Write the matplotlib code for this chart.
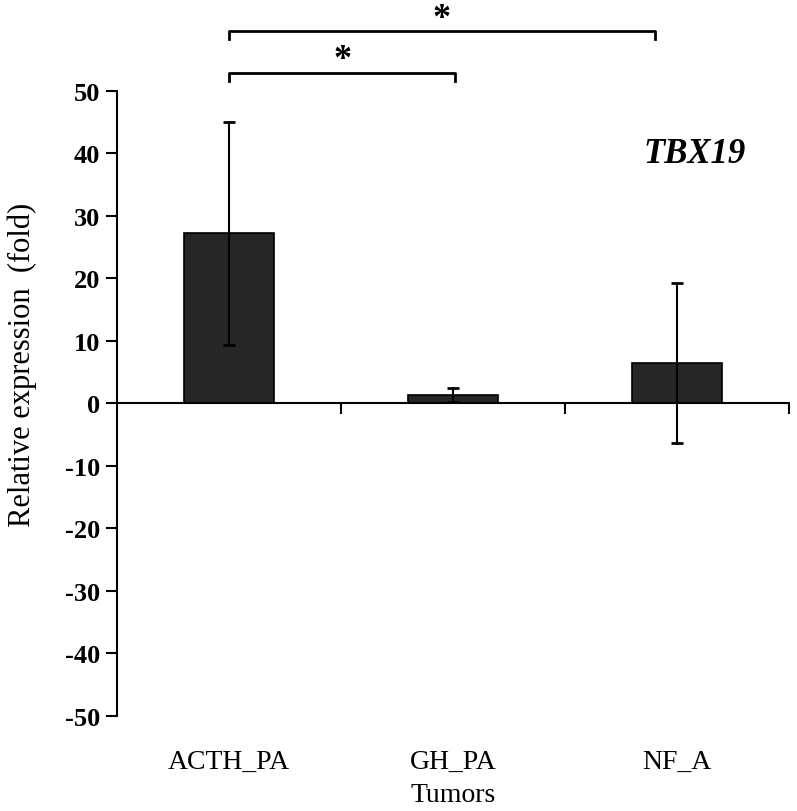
import matplotlib.pyplot as plt
import numpy as np
from matplotlib.transforms import blended_transform_factory

# data
categories = ['ACTH_PA', 'GH_PA', 'NF_A']
means = [27.2, 1.3, 6.4]
errors = [17.8, 1.1, 12.8]
y_ticks = [-50, -40, -30, -20, -10, 0, 10, 20, 30, 40, 50]

plt.rcParams['font.family'] = ['Liberation Serif', 'DejaVu Serif']

fig = plt.figure(figsize=(7.97, 8.12), dpi=100)
ax = fig.add_axes([0.147, 0.117, 0.843, 0.770])

x = np.arange(len(categories))
ax.bar(x, means, width=0.40, color='#262626', edgecolor='black', linewidth=1.2, zorder=2)
ax.errorbar(x, means, yerr=errors, fmt='none', ecolor='black', elinewidth=1.5,
            capsize=4.5, capthick=2, zorder=3)

ax.set_xlim(-0.5, len(categories) - 0.5)
ax.set_ylim(-50, 50)
ax.set_yticks(y_ticks)
ax.set_yticklabels([str(v) for v in y_ticks], fontweight='bold', fontsize=19)
ax.tick_params(axis='y', direction='out', length=8, width=1.5, pad=4)

# x axis crossing at zero, ticks at category boundaries
ax.spines['bottom'].set_position(('data', 0))
ax.spines['top'].set_visible(False)
ax.spines['right'].set_visible(False)
ax.spines['left'].set_linewidth(1.5)
ax.spines['bottom'].set_linewidth(1.5)
ax.set_xticks(x + 0.5)
ax.set_xticklabels([])
ax.tick_params(axis='x', direction='out', length=8, width=1.5)

trans = blended_transform_factory(ax.transData, ax.transAxes)
for xi, name in zip(x, categories):
    ax.text(xi, -0.072, name, transform=trans, ha='center', va='center', fontsize=20)
ax.text(1, -0.125, 'Tumors', transform=trans, ha='center', va='center', fontsize=20)

ax.set_ylabel('Relative expression  (fold)', fontsize=22)
ax.yaxis.set_label_coords(-0.12, 0.563)

ax.text(2.08, 40, 'TBX19', fontsize=25, fontweight='bold', fontstyle='italic',
        ha='center', va='center')

# significance brackets
def bracket(x0, x1, y, h, star_y):
    ax.plot([x0, x0, x1, x1], [y - h, y, y, y - h], color='black', lw=2, clip_on=False)
    ax.text((x0 + x1) / 2, star_y, '*', ha='center', va='center', fontsize=26,
            fontweight='bold', clip_on=False)

bracket(0, 1.01, 52.8, 1.3, 55.0)
bracket(0, 1.9, 59.5, 1.3, 61.6)

fig.savefig('out.png', dpi=100)
